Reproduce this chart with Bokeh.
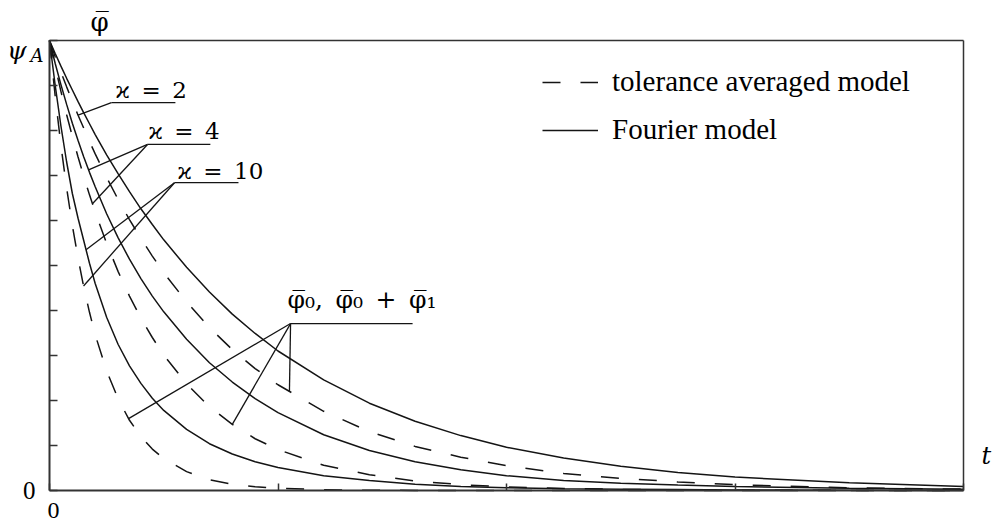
import numpy as np
from bokeh.plotting import figure
from bokeh.models import (Range1d, FixedTicker, Label, Legend, LegendItem,
                          CustomJSTickFormatter, LinearAxis)
from bokeh.embed import file_html
from bokeh.resources import INLINE

# ---------------- data ----------------
t = [0, 0.025, 0.05, 0.075, 0.1, 0.125, 0.15, 0.175, 0.2, 0.25, 0.3, 0.35,
     0.4, 0.45, 0.5, 0.6, 0.7, 0.8, 0.9, 1.0, 1.2, 1.4, 1.6, 1.8, 2.0,
     2.25, 2.5, 2.75, 3.0, 3.5, 4.0]

# Fourier model (solid)
fourier_k2 = [1, 0.971, 0.943, 0.916, 0.890, 0.864, 0.839, 0.815, 0.791, 0.746,
              0.704, 0.664, 0.626, 0.591, 0.557, 0.496, 0.441, 0.392, 0.349,
              0.310, 0.246, 0.194, 0.154, 0.122, 0.096, 0.072, 0.054, 0.040,
              0.030, 0.017, 0.009]
fourier_k4 = [1, 0.949, 0.902, 0.858, 0.816, 0.778, 0.741, 0.707, 0.675, 0.615,
              0.562, 0.514, 0.471, 0.432, 0.397, 0.336, 0.284, 0.241, 0.204,
              0.173, 0.124, 0.089, 0.064, 0.046, 0.033, 0.022, 0.016, 0.012,
              0.009, 0.005, 0.003]
fourier_k10 = [1, 0.900, 0.810, 0.730, 0.660, 0.605, 0.555, 0.505, 0.460, 0.385,
               0.325, 0.277, 0.238, 0.205, 0.178, 0.136, 0.104, 0.081, 0.064,
               0.051, 0.033, 0.022, 0.014, 0.009, 0.006, 0.004, 0.003, 0.002,
               0.001, 0.0005, 0.0002]

# tolerance averaged model (dashed)
tam_k2 = [1, 0.964, 0.930, 0.897, 0.865, 0.834, 0.805, 0.776, 0.748, 0.696,
          0.647, 0.602, 0.560, 0.521, 0.484, 0.419, 0.362, 0.313, 0.271,
          0.235, 0.176, 0.131, 0.098, 0.074, 0.055, 0.038, 0.027, 0.019,
          0.013, 0.006, 0.003]
tam_k4 = [1, 0.942, 0.887, 0.835, 0.787, 0.741, 0.698, 0.657, 0.619, 0.549,
          0.487, 0.432, 0.383, 0.340, 0.301, 0.237, 0.186, 0.147, 0.115,
          0.091, 0.056, 0.035, 0.021, 0.013, 0.008, 0.0045, 0.0025, 0.0014,
          0.0007, 0.0002, 0.0001]
tam_k10 = [1, 0.876, 0.767, 0.672, 0.589, 0.516, 0.452, 0.396, 0.346, 0.266,
           0.204, 0.156, 0.120, 0.092, 0.071, 0.042, 0.024, 0.014, 0.0085,
           0.005, 0.0017, 0.0006, 0.0002, 0.0001, 0, 0, 0, 0, 0, 0, 0]

x_ticks = [0, 1, 2, 3, 4]
y_ticks = [0.0, 0.1, 0.2, 0.3, 0.4, 0.5, 0.6, 0.7, 0.8, 0.9, 1.0]

legend_labels = ["tolerance averaged model", "Fourier model"]
kappa_labels = ["ϰ\u2002=\u20022", "ϰ\u2002=\u20024", "ϰ\u2002=\u200210"]
phi_label = "φ\u0305\u2080,\u2002φ\u0305\u2080\u2002+\u2002φ\u0305\u2081"

INK = "#141414"
AX = "#333333"
MATH_FONT = "DejaVu Serif"

# The frame fills the canvas; the axes sit at fixed data locations so that the
# texts outside the box are not clipped.
W, H = 994, 525
X0_PX, PX_PER_T = 49, 228.5
Y0_PX, PX_PER_V = 490, 450
x_lo, x_hi = -X0_PX / PX_PER_T, (W - X0_PX) / PX_PER_T
y_lo, y_hi = (Y0_PX - H) / PX_PER_V, Y0_PX / PX_PER_V

p = figure(width=W, height=H, x_range=Range1d(x_lo, x_hi), y_range=Range1d(y_lo, y_hi),
           output_backend="svg", toolbar_location=None,
           min_border_left=0, min_border_right=0, min_border_top=0,
           min_border_bottom=0)
p.background_fill_color = "white"
p.border_fill_color = "white"
p.outline_line_color = None
p.grid.visible = False

def style_axis(ax, width, tick_in):
    ax.axis_line_width = width
    ax.axis_line_color = AX
    ax.major_tick_in = tick_in
    ax.major_tick_out = 0
    ax.minor_tick_in = 0
    ax.minor_tick_out = 0
    ax.major_tick_line_color = AX
    ax.major_tick_line_width = 1.5

xa = p.xaxis[0]
ya = p.yaxis[0]
style_axis(xa, 2, 7)
style_axis(ya, 2, 8)
xa.fixed_location = 0
ya.fixed_location = 0
xa.bounds = (x_ticks[0], x_ticks[-1])
ya.bounds = (y_ticks[0], y_ticks[-1])
xa.ticker = FixedTicker(ticks=x_ticks)
ya.ticker = FixedTicker(ticks=y_ticks)
ya.formatter = CustomJSTickFormatter(code="return tick == 0 ? '0' : '';")
ya.major_label_text_font = "Liberation Serif"
ya.major_label_text_font_size = "25px"
ya.major_label_text_color = "black"
ya.major_label_standoff = 14
xa.formatter = CustomJSTickFormatter(code="return '';")
xa.major_label_text_font_size = "1px"

# top and right edges of the box
top_ax = LinearAxis(fixed_location=y_ticks[-1], bounds=(x_ticks[0], x_ticks[-1]),
                    ticker=FixedTicker(ticks=[]),
                    formatter=CustomJSTickFormatter(code="return '';"))
right_ax = LinearAxis(fixed_location=x_ticks[-1], bounds=(y_ticks[0], y_ticks[-1]),
                      ticker=FixedTicker(ticks=[]),
                      formatter=CustomJSTickFormatter(code="return '';"))
for ax in (top_ax, right_ax):
    style_axis(ax, 1.5, 0)
    ax.major_label_text_font_size = "1px"
p.add_layout(top_ax, "above")
p.add_layout(right_ax, "right")

# ---------------- curves ----------------
solid = {}
dashed = {}
for name, vals in (("k2", fourier_k2), ("k4", fourier_k4), ("k10", fourier_k10)):
    solid[name] = p.line(t, vals, line_color=INK, line_width=1.5)
for name, vals in (("k2", tam_k2), ("k4", tam_k4), ("k10", tam_k10)):
    dashed[name] = p.line(t, vals, line_color=INK, line_width=1.5, line_dash="18 20")

curves = {("F", "k2"): fourier_k2, ("F", "k4"): fourier_k4, ("F", "k10"): fourier_k10,
          ("T", "k2"): tam_k2, ("T", "k4"): tam_k4, ("T", "k10"): tam_k10}

def on_curve(key, tt):
    return float(np.interp(tt, t, curves[key]))

# ---------------- leaders / annotations ----------------
# (label anchor x, anchor y, underline end x, list of (curve, t) targets)
leaders = [
    (0.271, 0.862, 0.551, [(("T", "k2"), 0.125)]),
    (0.429, 0.769, 0.704, [(("F", "k4"), 0.171), (("T", "k4"), 0.188)]),
    (0.547, 0.684, 0.827, [(("F", "k10"), 0.160), (("T", "k10"), 0.149)]),
    (1.055, 0.371, 1.589, [(("T", "k10"), 0.346), (("T", "k4"), 0.80), (("T", "k2"), 1.05)]),
]
x0s, y0s, x1s, y1s = [], [], [], []
for ax_, ay_, ex_, targets in leaders:
    x0s.append(ax_); y0s.append(ay_); x1s.append(ex_); y1s.append(ay_)
    for key, tt in targets:
        x0s.append(ax_); y0s.append(ay_); x1s.append(tt); y1s.append(on_curve(key, tt))
p.segment(x0s, y0s, x1s, y1s, line_color=INK, line_width=1.3)

kappa_pos = [(0.289, 0.891), (0.433, 0.800), (0.560, 0.711)]
for txt, (lx, ly) in zip(kappa_labels, kappa_pos):
    p.add_layout(Label(x=lx, y=ly, text=txt, text_font=MATH_FONT,
                       text_font_size="23px", text_color="black",
                       text_align="left", text_baseline="middle"))

p.add_layout(Label(x=1.042, y=0.424, text=phi_label, text_font=MATH_FONT,
                   text_font_size="25px", text_color="black",
                   text_align="left", text_baseline="middle"))

# axis titles
p.add_layout(Label(x=0.219, y=1.042, text="φ\u0305", text_font=MATH_FONT,
                   text_font_size="26px", text_color="black",
                   text_align="center", text_baseline="middle"))
p.add_layout(Label(x=-0.143, y=0.978, text="ψ", text_font=MATH_FONT,
                   text_font_style="italic", text_font_size="25px",
                   text_color="black", text_align="center", text_baseline="middle"))
p.add_layout(Label(x=-0.055, y=0.966, text="A", text_font=MATH_FONT,
                   text_font_style="italic", text_font_size="18px",
                   text_color="black", text_align="center", text_baseline="middle"))
p.add_layout(Label(x=4.10, y=0.0756, text="t", text_font=MATH_FONT,
                   text_font_style="italic", text_font_size="24px",
                   text_color="black", text_align="center", text_baseline="middle"))
p.add_layout(Label(x=0.0175, y=-0.044, text="0", text_font="Liberation Serif",
                   text_font_size="24px", text_color="black",
                   text_align="center", text_baseline="middle"))

# ---------------- legend ----------------
legend = Legend(items=[LegendItem(label=legend_labels[0], renderers=[dashed["k2"]]),
                       LegendItem(label=legend_labels[1], renderers=[solid["k2"]])],
                location=(542, 379), orientation="vertical",
                glyph_width=56, glyph_height=32, label_height=32,
                label_standoff=14, spacing=15, padding=0, margin=0,
                border_line_alpha=0, background_fill_alpha=0,
                label_text_font="Liberation Serif", label_text_font_size="29px",
                label_text_color="black")
p.add_layout(legend)

open("out.html", "w").write(file_html(p, INLINE))
